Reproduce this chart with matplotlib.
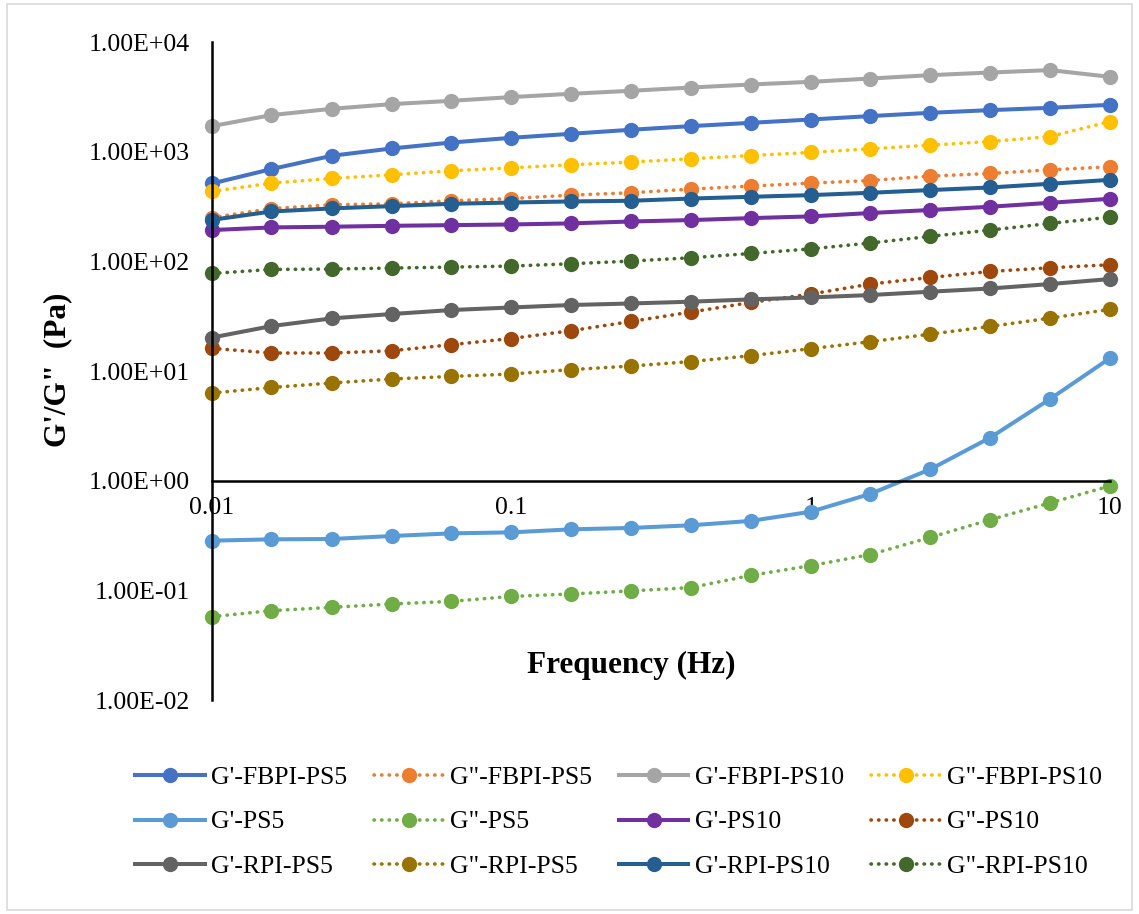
import matplotlib
matplotlib.use("Agg")
import matplotlib.pyplot as plt
from matplotlib.ticker import FixedLocator, FuncFormatter, NullLocator
from matplotlib.patches import Rectangle

plt.rcParams['font.family'] = ['Liberation Serif', 'DejaVu Serif']

freq = [0.01, 0.0158, 0.0251, 0.0398, 0.0631, 0.1, 0.158, 0.251, 0.398,
        0.631, 1.0, 1.58, 2.51, 3.98, 6.31, 10.0]

g1_fbpi_ps5 = [513, 694, 918, 1070, 1213, 1339, 1456, 1585, 1711, 1834,
               1966, 2112, 2263, 2394, 2513, 2677]
g2_fbpi_ps5 = [251, 303, 328, 335, 357, 374, 402, 422, 456, 486,
               517, 546, 599, 633, 684, 728]
g1_fbpi_ps10 = [1711, 2157, 2462, 2716, 2911, 3148, 3373, 3592, 3848, 4100,
                4336, 4647, 4990, 5273, 5547, 4819]
g2_fbpi_ps10 = [434, 517, 570, 616, 670, 713, 760, 804, 862, 923,
                984, 1062, 1148, 1238, 1376, 1885]
g1_ps5 = [0.284, 0.292, 0.294, 0.313, 0.331, 0.338, 0.360, 0.371, 0.392, 0.430,
          0.521, 0.757, 1.27, 2.47, 5.56, 13.1]
g2_ps5 = [0.0576, 0.0653, 0.0700, 0.0751, 0.0794, 0.0881, 0.0927, 0.0988, 0.106,
          0.137, 0.168, 0.212, 0.304, 0.441, 0.627, 0.895]
g1_ps10 = [193, 204, 207, 211, 214, 217, 222, 231, 238, 248,
           257, 276, 294, 315, 342, 372]
g2_ps10 = [16.1, 14.6, 14.6, 15.3, 17.4, 19.8, 23.3, 28.3, 34.5, 42.2,
           50.3, 62.1, 71.3, 80.9, 87.5, 93.1]
g1_rpi_ps5 = [20.2, 25.7, 30.2, 33.1, 36.0, 38.0, 40.0, 41.3, 42.9, 45.0,
              46.9, 49.3, 52.9, 56.6, 62.1, 69.0]
g2_rpi_ps5 = [6.30, 7.08, 7.78, 8.46, 8.93, 9.39, 10.3, 11.1, 12.2, 13.8,
              16.0, 18.5, 21.7, 25.5, 30.4, 36.5]
g1_rpi_ps10 = [239, 285, 304, 319, 335, 344, 352, 357, 374, 388,
               402, 422, 447, 472, 510, 554]
g2_rpi_ps10 = [77.6, 84.4, 85.1, 86.9, 88.7, 90.6, 95.1, 100.6, 107.9, 118,
               130, 147, 169, 193, 222, 253]

labels = ["G'-FBPI-PS5", 'G"-FBPI-PS5', "G'-FBPI-PS10", 'G"-FBPI-PS10',
          "G'-PS5", 'G"-PS5', "G'-PS10", 'G"-PS10',
          "G'-RPI-PS5", 'G"-RPI-PS5', "G'-RPI-PS10", 'G"-RPI-PS10']
series = [g1_fbpi_ps5, g2_fbpi_ps5, g1_fbpi_ps10, g2_fbpi_ps10,
          g1_ps5, g2_ps5, g1_ps10, g2_ps10,
          g1_rpi_ps5, g2_rpi_ps5, g1_rpi_ps10, g2_rpi_ps10]
colors = ['#4472C4', '#ED7D31', '#A5A5A5', '#FFC000',
          '#5B9BD5', '#70AD47', '#7030A0', '#9E480E',
          '#636363', '#997300', '#255E91', '#43682B']

fig = plt.figure(figsize=(11.39, 9.14), dpi=100)
ax = fig.add_axes([0.1861, 0.2341, 0.7884, 0.7199])

handles = []
for lab, vals, col in zip(labels, series, colors):
    dotted = lab.startswith('G"')
    ln, = ax.plot(freq, vals, color=col, lw=2.9 if not dotted else 2.6,
                  marker='o', ms=11, markeredgewidth=0, clip_on=False, label=lab,
                  linestyle=(0, (0.1, 2.0)) if dotted else '-',
                  dash_capstyle='round')
    handles.append(ln)

ax.set_xscale('log')
ax.set_yscale('log')
ax.set_xlim(0.01, 10)
ax.set_ylim(0.01, 1e4)

for s in ['top', 'right']:
    ax.spines[s].set_visible(False)
ax.spines['bottom'].set_position(('data', 1))
for s in ['left', 'bottom']:
    ax.spines[s].set_linewidth(1.8)
    ax.spines[s].set_color('black')

ax.xaxis.set_major_locator(FixedLocator([0.01, 0.1, 1, 10]))
ax.xaxis.set_major_formatter(FuncFormatter(lambda v, p: '%g' % v))
ax.yaxis.set_major_locator(FixedLocator([1e-2, 1e-1, 1, 10, 100, 1e3, 1e4]))
ax.yaxis.set_major_formatter(FuncFormatter(lambda v, p: '%.2E' % v))
ax.xaxis.set_minor_locator(NullLocator())
ax.yaxis.set_minor_locator(NullLocator())
ax.tick_params(axis='x', length=0, pad=12, labelsize=18.5)
ax.tick_params(axis='y', length=0, pad=16, labelsize=18.5)

fig.text(631 / 1139, 1 - 665 / 914, 'Frequency (Hz)', ha='center', va='center',
         fontsize=22.5, fontweight='bold')
fig.text(58 / 1139, 1 - 370 / 914, 'G\'/G"  (Pa)', ha='center', va='center',
         rotation=90, fontsize=22.5, fontweight='bold')

# legend is filled column by column, so reorder to get row-wise entries
order = [0, 4, 8, 1, 5, 9, 2, 6, 10, 3, 7, 11]
fig.legend([handles[i] for i in order], [labels[i] for i in order],
           ncol=4, loc='center', bbox_to_anchor=(0.543, 1 - 822 / 914),
           frameon=False, fontsize=18.5, handlelength=2.7, handletextpad=0.25,
           columnspacing=1.05, labelspacing=0.85, markerscale=1.0)

fig.add_artist(Rectangle((0.006, 0.004), 0.988, 0.992, transform=fig.transFigure,
                         fill=False, edgecolor='#D9D9D9', lw=1.2))

fig.savefig('out.png', dpi=100)
